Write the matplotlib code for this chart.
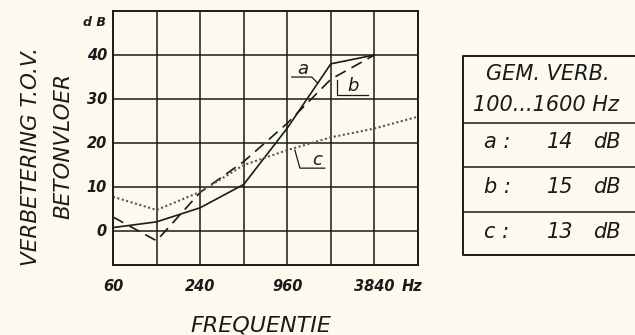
import matplotlib.pyplot as plt
from matplotlib.ticker import FixedLocator, NullFormatter

# octave band centres (Hz)
freqs = [60, 120, 240, 480, 960, 1920, 3840]
freqs_c = [60, 120, 240, 480, 960, 1920, 3840, 7680]

# improvement relative to bare concrete floor (dB)
curve_a = [0.8, 2.1, 5.3, 10.6, 23.4, 38.0, 40.0]
curve_b = [3.2, -2.2, 8.8, 15.8, 24.5, 34.5, 40.0]
curve_c = [7.8, 4.8, 8.9, 15.0, 18.4, 21.3, 23.3, 26.0]

y_ticks = [0, 10, 20, 30, 40]
x_labels = {60: "60", 240: "240", 960: "960", 3840: "3840"}

table_rows = [("a :", "14", "dB"), ("b :", "15", "dB"), ("c :", "13", "dB")]

INK = "#1a1a1a"
BG = "#fcfaef"
FONT = dict(family="DejaVu Sans", style="italic", color=INK)

fig = plt.figure(figsize=(6.35, 3.35), dpi=100)
fig.patch.set_facecolor(BG)
ax = fig.add_axes([113 / 635, 1 - 265 / 335, 305 / 635, 254 / 335])
ax.set_facecolor(BG)

ax.set_xscale("log", base=2)
ax.set_xlim(60, 7680)
ax.set_ylim(-7.7, 50)
ax.xaxis.set_major_locator(FixedLocator(freqs_c))
ax.xaxis.set_minor_locator(FixedLocator([]))
ax.xaxis.set_major_formatter(NullFormatter())
ax.xaxis.set_minor_formatter(NullFormatter())
ax.yaxis.set_major_locator(FixedLocator(y_ticks))
ax.set_yticklabels([])
ax.tick_params(length=0)
ax.grid(True, color=INK, linewidth=1.1)
for sp in ax.spines.values():
    sp.set_color(INK)
    sp.set_linewidth(1.4)

ax.plot(freqs, curve_a, color=INK, lw=1.2, solid_joinstyle="miter")
ax.plot(freqs, curve_b, color=INK, lw=1.2, dashes=(7, 4))
ax.plot(freqs_c, curve_c, color="#555555", lw=1.5, linestyle=(0, (1, 1.2)))

# tick labels drawn by hand in lettering style
ytr = ax.get_yaxis_transform()
for v in y_ticks:
    ax.text(-0.02, v, str(v), transform=ytr, ha="right", va="center",
            fontsize=10.5, fontweight="bold", **FONT)
ax.text(-0.025, 47.3, "d B", transform=ytr, ha="right", va="center",
        fontsize=9, fontweight="bold", **FONT)
for f, lab in x_labels.items():
    ax.text(f, -12.6, lab, ha="center", va="center", fontsize=10.5,
            fontweight="bold", **FONT)
ax.text(6970, -12.6, "Hz", ha="center", va="center", fontsize=10.5,
        fontweight="bold", **FONT)

# curve labels with leaders
ax.text(1232, 36.8, "a", fontsize=13, ha="center", va="center", **FONT)
ax.plot([1031, 1416, 1560], [35.0, 35.0, 33.6], color=INK, lw=0.9)
ax.text(2715, 33.0, "b", fontsize=13, ha="center", va="center", **FONT)
ax.plot([2113, 2113, 3455], [34.3, 30.9, 30.9], color=INK, lw=0.9)
ax.text(1538, 16.1, "c", fontsize=13, ha="center", va="center", **FONT)
ax.plot([1083, 1174, 1743], [18.4, 14.3, 14.3], color=INK, lw=0.9)

fig.text(261 / 635, 1 - 325 / 335, "FREQUENTIE", ha="center", va="center",
         fontsize=16, **FONT)
fig.text(31 / 635, 1 - 157 / 335, "VERBETERING T.O.V.", rotation=90,
         ha="center", va="center", fontsize=15.5, **FONT)
fig.text(63 / 635, 1 - 146 / 335, "BETONVLOER", rotation=90,
         ha="center", va="center", fontsize=15.5, **FONT)

# averages box on the right
tx = fig.add_axes([463 / 635, 1 - 255 / 335, 180 / 635, 199 / 335])
tx.set_xlim(463, 643)
tx.set_ylim(255, 56)
tx.axis("off")
tx.plot([643, 463, 463, 643], [56, 56, 255, 255], color=INK, lw=1.4, clip_on=False)
for yl in [122.7, 166.7, 211.7]:
    tx.plot([463, 643], [yl, yl], color=INK, lw=1.1)
tx.text(548, 74, "GEM. VERB.", fontsize=15, ha="center", va="center", **FONT)
tx.text(546, 105, "100...1600 Hz", fontsize=15, ha="center", va="center", **FONT)
for i, (k, val, unit) in enumerate(table_rows):
    yc = 142 + 45 * i
    tx.text(497, yc, k, fontsize=15, ha="center", va="center", **FONT)
    tx.text(560, yc, val, fontsize=15, ha="center", va="center", **FONT)
    tx.text(607, yc, unit, fontsize=15, ha="center", va="center", **FONT)

fig.savefig("out.png", dpi=100, facecolor=BG)
